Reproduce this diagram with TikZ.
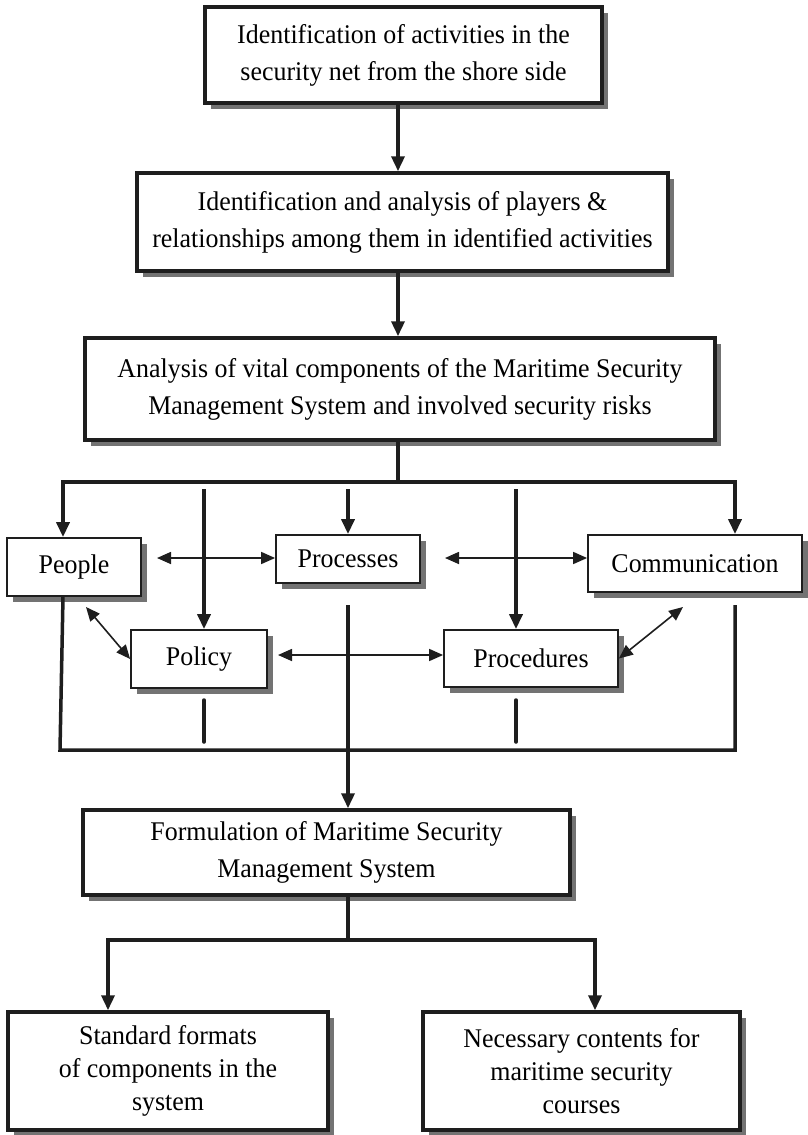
\documentclass[tikz,border=0pt]{standalone}
\usepackage{fontspec}
\setmainfont{Liberation Serif}[FakeStretch=0.96]
\usetikzlibrary{arrows.meta,shadows}
\definecolor{ink}{HTML}{1E1E1E}
\begin{document}
\begin{tikzpicture}[x=1pt,y=-1pt,
  box/.style={draw=ink, fill=white, line width=3.5pt, align=center, inner sep=0pt,
    font=\fontsize{27}{37}\selectfont,
    drop shadow={shadow xshift=6pt,shadow yshift=-6pt,fill=black!55,opacity=1}},
  sbox/.style={box, line width=1.8pt},
  lowbox/.style={box, font=\fontsize{27}{33}\selectfont},
  tline/.style={draw=ink, line width=3.5pt, line join=miter},
  tarrow/.style={tline, -{Triangle[length=15pt,width=13pt]}},
  tboth/.style={tline, {Triangle[length=15pt,width=13pt]}-{Triangle[length=15pt,width=13pt]}},
  darrow/.style={draw=ink, line width=1.6pt, {Triangle[length=14pt,width=12pt]}-{Triangle[length=14pt,width=12pt]}},
  stub/.style={tline, line cap=round}
]
\useasboundingbox (0,0) rectangle (807,1135);
\fill[white] (0,0) rectangle (807,1135);

% main boxes
\node[box, minimum width=397pt, minimum height=96pt] (b1) at (403.5,55) {Identification of activities in the\\security net from the shore side};
\node[box, minimum width=531pt, minimum height=98pt] (b2) at (402.5,222) {Identification and analysis of players \&\\relationships among them in identified activities};
\node[box, minimum width=630pt, minimum height=102pt] (b3) at (400,389) {Analysis of vital components of the Maritime Security\\Management System and involved security risks};

% component boxes
\node[sbox, minimum width=134pt, minimum height=58pt] (people) at (74,567) {People};
\node[sbox, minimum width=144pt, minimum height=48pt] (proc) at (348,559) {Processes};
\node[sbox, minimum width=214pt, minimum height=57pt] (comm) at (695,563.5) {Communication};
\node[sbox, minimum width=136pt, minimum height=58pt] (policy) at (199,659) {Policy};
\node[sbox, minimum width=174pt, minimum height=57pt] (procd) at (531,658.5) {Procedures};

% lower boxes
\node[box, minimum width=487pt, minimum height=85pt] (form) at (326.5,852.5) {Formulation of Maritime Security\\Management System};
\node[lowbox, minimum width=320pt, minimum height=118pt] (std) at (168,1071) {Standard formats\\of components in the\\system};
\node[lowbox, minimum width=317pt, minimum height=118pt] (nec) at (581.5,1071) {Necessary contents for\\maritime security\\courses};

% spine
\coordinate (sp) at (398,0);
\draw[tarrow] (b1.south -| sp) -- (b2.north -| sp);
\draw[tarrow] (b2.south -| sp) -- (b3.north -| sp);
\coordinate (br) at (398,482);
\coordinate (L) at (63,482);
\coordinate (R) at (735,482);
\draw[tline] (b3.south -| sp) -- (br);
\draw[tboth] (L |- people.north) -- (L) -- (R) -- (R |- comm.north);

% vertical arrows to components
\coordinate (t1) at (204,489);
\coordinate (t2) at (348,489);
\coordinate (t3) at (516,489);
\draw[tarrow] (t1) -- (t1 |- policy.north);
\draw[tarrow] (t2) -- (proc.north);
\draw[tarrow] (t3) -- (t3 |- procd.north);

% double arrows among components
\coordinate (d1) at (157,558);
\coordinate (d2) at (445,558);
\coordinate (d3) at (278,655);
\coordinate (g1) at (86,607);
\coordinate (g2) at (683,607);
\draw[darrow] (d1) -- (d1 -| proc.west);
\draw[darrow] (d2) -- (d2 -| comm.west);
\draw[darrow] (d3) -- (d3 -| procd.west);
\draw[darrow] (g1) -- (policy.west);
\draw[darrow] (procd.east) -- (g2);

% collecting loop
\coordinate (lb) at (60,750);
\coordinate (rb) at (735,750);
\coordinate (rt) at (735,605);
\draw[tline] (people.south -| L) -- (lb) -- (rb) -- (rt);
\coordinate (c1) at (348,605);
\draw[tarrow] (c1) -- (c1 |- form.north);
\coordinate (s1) at (204,700);
\coordinate (s1b) at (204,742);
\coordinate (s2) at (516,700);
\coordinate (s2b) at (516,742);
\draw[stub] (s1) -- (s1b);
\draw[stub] (s2) -- (s2b);

% bottom branch
\coordinate (fb) at (348,940);
\coordinate (BL) at (108,940);
\coordinate (BR) at (595,940);
\draw[tline] (form.south -| fb) -- (fb);
\draw[tboth] (BL |- std.north) -- (BL) -- (BR) -- (BR |- nec.north);
\end{tikzpicture}
\end{document}
